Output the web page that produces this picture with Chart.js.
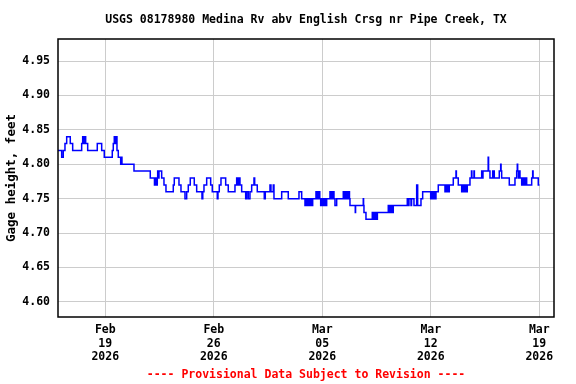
<!DOCTYPE html>
<html>
<head>
<meta charset="utf-8">
<script src="https://cdn.jsdelivr.net/npm/chart.js@4/dist/chart.umd.min.js"></script>
<style>
html,body{margin:0;padding:0;background:#fff;}
#c{display:block;}
</style>
</head>
<body>
<canvas id="c" width="576" height="384"></canvas>
<script>
// Time in days relative to 2026-02-19 00:00, gage height in feet (step changes)
const times = [
-3.05,-2.813,-2.710,-2.600,-2.490,-2.258,-2.103,-1.523,-1.458,-1.394,-1.355,-1.265,-1.135,-0.516,-0.232,-0.065,
0.452,0.516,0.581,0.645,0.690,0.755,0.839,0.994,1.045,1.077,1.852,2.903,3.174,3.239,3.271,3.355,3.381,3.432,3.465,3.639,
3.787,3.916,4.387,4.452,4.755,4.884,5.142,5.252,5.355,5.484,5.742,5.897,6.239,6.290,6.368,6.542,6.800,6.903,
7.226,7.271,7.355,7.465,7.768,7.935,8.368,8.477,8.55,8.60,8.690,8.800,9.058,9.123,9.226,9.335,9.445,9.594,9.639,9.806,
10.258,10.323,10.626,10.690,10.839,10.884,11.381,11.806,12.497,12.671,
12.884,12.948,13.000,13.065,13.116,13.181,13.232,13.297,13.348,13.381,
13.594,13.658,13.710,13.774,13.806,13.839,13.897,13.961,14.013,14.077,14.129,14.194,14.239,14.284,
14.497,14.561,14.606,14.671,14.710,14.755,14.819,14.929,
15.355,15.419,15.465,15.529,15.581,15.645,15.690,15.755,15.787,16.129,16.148,16.645,16.665,16.690,16.819,
17.226,17.290,17.335,17.400,17.445,17.510,17.555,18.258,18.323,18.368,18.432,18.477,18.542,18.581,
19.484,19.548,19.594,19.723,19.761,19.916,20.090,20.155,20.368,20.477,
20.994,21.058,21.103,21.168,21.206,21.271,21.310,21.335,21.484,
21.916,21.981,22.026,22.090,22.129,22.194,22.452,22.626,22.652,22.774,
22.994,23.058,23.097,23.161,23.206,23.271,23.310,23.355,23.529,23.626,23.652,23.787,23.813,
24.284,24.335,24.368,24.703,24.729,24.819,24.994,25.026,25.058,25.097,25.419,25.510,25.535,25.574,
26.065,26.432,26.542,26.581,26.606,26.658,26.690,26.755,26.865,26.929,26.968,27.032,27.077,27.142,27.187,
27.510,27.574,27.600,27.935,28.013
];
const stage = [
4.82,4.81,4.82,4.83,4.84,4.83,4.82,4.83,4.84,4.83,4.84,4.83,4.82,4.83,4.82,4.81,
4.82,4.83,4.84,4.83,4.84,4.82,4.81,4.80,4.81,4.80,4.79,4.78,4.77,4.78,4.77,4.78,4.79,4.78,4.79,4.78,
4.77,4.76,4.77,4.78,4.77,4.76,4.75,4.76,4.77,4.78,4.77,4.76,4.75,4.76,4.77,4.78,4.77,4.76,
4.75,4.76,4.77,4.78,4.77,4.76,4.77,4.78,4.77,4.78,4.77,4.76,4.75,4.76,4.75,4.76,4.77,4.78,4.77,4.76,
4.75,4.76,4.77,4.76,4.77,4.75,4.76,4.75,4.76,4.75,
4.74,4.75,4.74,4.75,4.74,4.75,4.74,4.75,4.74,4.75,
4.76,4.75,4.76,4.75,4.76,4.75,4.74,4.75,4.74,4.75,4.74,4.75,4.74,4.75,
4.76,4.75,4.76,4.75,4.76,4.75,4.74,4.75,
4.76,4.75,4.76,4.75,4.76,4.75,4.76,4.75,4.74,4.73,4.74,4.75,4.74,4.73,4.72,
4.73,4.72,4.73,4.72,4.73,4.72,4.73,4.74,4.73,4.74,4.73,4.74,4.73,4.74,
4.75,4.74,4.75,4.74,4.75,4.74,4.77,4.74,4.75,4.76,
4.75,4.76,4.75,4.76,4.75,4.76,4.75,4.76,4.77,
4.76,4.77,4.76,4.77,4.76,4.77,4.78,4.79,4.78,4.77,
4.76,4.77,4.76,4.77,4.76,4.77,4.76,4.77,4.78,4.79,4.78,4.79,4.78,
4.79,4.78,4.79,4.81,4.79,4.78,4.79,4.78,4.79,4.78,4.79,4.80,4.79,4.78,
4.77,4.78,4.79,4.80,4.79,4.78,4.79,4.78,4.77,4.78,4.77,4.78,4.77,4.78,4.77,
4.78,4.79,4.78,4.77,4.77
];
const xTickDays = [0, 7, 14, 21, 28];
const xTickLabels = [['Feb','19','2026'],['Feb','26','2026'],['Mar','05','2026'],['Mar','12','2026'],['Mar','19','2026']];
const yTicks = [4.60, 4.65, 4.70, 4.75, 4.80, 4.85, 4.90, 4.95];
const titleText = 'USGS 08178980 Medina Rv abv English Crsg nr Pipe Creek, TX';
const yTitleText = 'Gage height, feet';
const noteText = '---- Provisional Data Subject to Revision ----';

const FONT = '"DejaVu Sans Mono", "Liberation Mono", monospace';

const extras = {
  id: 'extras',
  afterDraw(chart) {
    const ctx = chart.ctx, a = chart.chartArea;
    ctx.save();
    ctx.strokeStyle = '#000';
    ctx.lineWidth = 1.5;
    ctx.strokeRect(a.left, a.top, a.right - a.left, a.bottom - a.top);
    ctx.fillStyle = '#000';
    ctx.font = 'bold 11.5px ' + FONT;
    ctx.textAlign = 'center';
    ctx.textBaseline = 'middle';
    ctx.fillText(titleText, (a.left + a.right) / 2, 20.5);
    ctx.fillStyle = '#ff0000';
    ctx.fillText(noteText, (a.left + a.right) / 2, 375);
    ctx.fillStyle = '#000';
    ctx.font = 'bold 12.5px ' + FONT;
    ctx.translate(12, (a.top + a.bottom) / 2);
    ctx.rotate(-Math.PI / 2);
    ctx.fillText(yTitleText, 0, 0);
    ctx.restore();
  }
};

new Chart(document.getElementById('c'), {
  type: 'line',
  data: {
    datasets: [{
      data: times.map((t, i) => ({x: t, y: stage[i]})),
      borderColor: '#0000ff',
      borderWidth: 1.5,
      pointRadius: 0,
      stepped: true,
      fill: false,
      tension: 0
    }]
  },
  options: {
    responsive: false,
    devicePixelRatio: 1,
    animation: false,
    events: [],
    layout: {padding: {left: 0, right: 22, top: 39, bottom: 0}},
    plugins: {legend: {display: false}, tooltip: {enabled: false}, title: {display: false}},
    scales: {
      x: {
        type: 'linear',
        min: -3.05,
        max: 28.95,
        afterBuildTicks: s => { s.ticks = xTickDays.map(v => ({value: v})); },
        afterFit: s => { s.height = 384 - 39 - 278; },
        grid: {color: '#cccccc', lineWidth: 1, drawTicks: false},
        border: {display: false},
        ticks: {
          padding: 6,
          maxRotation: 0,
          autoSkip: false,
          color: '#000',
          font: {family: FONT, size: 11.5, weight: 'bold', lineHeight: 1.2},
          callback: v => { const i = xTickDays.indexOf(v); return i >= 0 ? xTickLabels[i] : ''; }
        }
      },
      y: {
        type: 'linear',
        min: 4.578,
        max: 4.982,
        afterBuildTicks: s => { s.ticks = yTicks.map(v => ({value: v})); },
        afterFit: s => { s.width = 58; },
        grid: {color: '#cccccc', lineWidth: 1, drawTicks: false},
        border: {display: false},
        ticks: {
          padding: 8,
          color: '#000',
          font: {family: FONT, size: 11.5, weight: 'bold'},
          callback: v => v.toFixed(2)
        }
      }
    }
  },
  plugins: [extras]
});
</script>
</body>
</html>
